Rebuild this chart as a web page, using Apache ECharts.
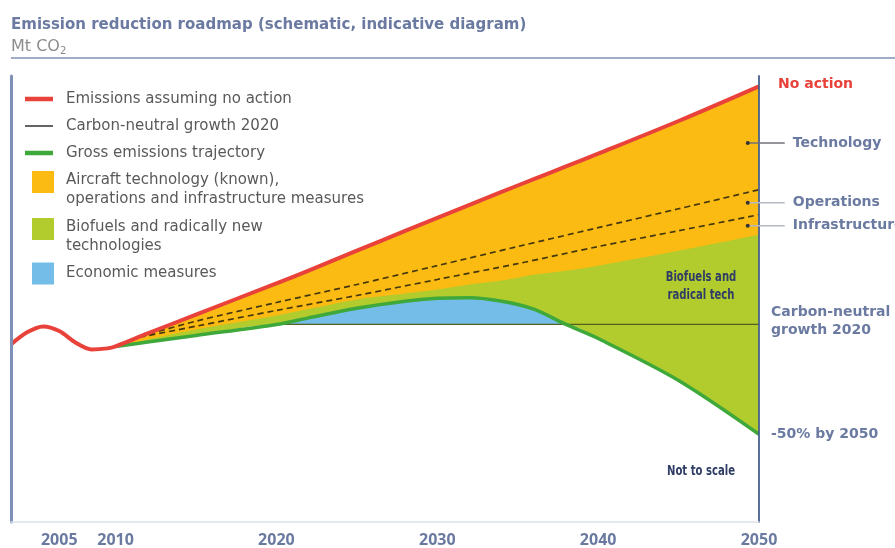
<!DOCTYPE html>
<html><head><meta charset="utf-8">
<script src="https://cdn.jsdelivr.net/npm/echarts@6/dist/echarts.min.js"></script>
<style>html,body{margin:0;padding:0;background:#fff}#c{width:895px;height:548px}</style>
</head><body><div id="c"></div>
<script>
// ---- Data (schematic index: carbon-neutral 2020 level = 100) ----
const historyYears = [2003.5, 2004.5, 2005.5, 2006.5, 2007.5, 2008.5, 2009.5];
const historyEmissions = [90.9, 96.4, 99.1, 97.0, 91.8, 88.6, 89.1];
const projYears = [2010, 2012, 2015, 2020, 2022, 2025, 2028, 2030, 2032, 2034, 2036, 2038, 2040, 2045, 2050];
const noAction   = [90.0, 95.9, 104.5, 118.7, 124.5, 133.6, 142.6, 148.6, 154.5, 160.4, 166.2, 172.0, 177.8, 192.7, 208.5];
const techBase   = [90.0, 93.2, 97.7, 104.1, 107.0, 111.4, 114.1, 115.9, 118.2, 120.0, 122.7, 124.5, 126.8, 133.6, 140.9];
const grossEmissions = [90.0, 92.0, 95.0, 100.0, 103.0, 107.4, 110.6, 111.9, 112.2, 110.6, 107.0, 100.0, 93.6, 74.5, 50.0];
const dashYears  = [2011.5, 2015, 2020, 2025, 2030, 2035, 2040, 2045, 2050];
const operationsLine     = [94.4, 101.5, 110.0, 118.2, 126.8, 135.5, 144.1, 152.7, 161.4];
const infrastructureLine = [94.2, 99.2, 106.4, 113.2, 120.5, 127.7, 135.5, 142.7, 150.0];
const cngYears = [2020, 2050];
const cngLevel = 100;
const xTickValues = [2006.5, 2010, 2020, 2030, 2040, 2050];
const xTickLabels = ['2005', '2010', '2020', '2030', '2040', '2050'];
const calloutNames = ['Technology', 'Operations', 'Infrastructure'];
const calloutValues = [182.7, 155.5, 145.0];
const calloutYear = 2049.3;

// ---- Styles ----
const FONT = "'DejaVu Sans', sans-serif";
const SLATE = '#6b7aa1';
const RED = '#e8423b', YELLOW = '#fbbb12', LGREEN = '#b2cb2d', DGREEN = '#3fa83b', BLUE = '#74bde9';
const S = 0.3;

const pairs = (xs, ys) => xs.map((x, i) => [x, ys[i]]);
const redData = pairs(historyYears.concat(projYears), historyEmissions.concat(noAction));
const grossData = pairs(projYears, grossEmissions);
// white cover below the history curve and below min(gross, carbon-neutral level)
const maskData = pairs(historyYears, historyEmissions)
  .concat(projYears.map((x, i) => [x, Math.min(grossEmissions[i], cngLevel)]));
const cngData = cngYears.map(y => [y, cngLevel]);

// filled band drawn down to the axis; later bands paint over earlier ones
const band = (name, data, color) => ({
  type: 'line', name, data, symbol: 'none', smooth: S, silent: true,
  lineStyle: { width: 0 }, itemStyle: { color }, areaStyle: { color, opacity: 1, origin: 'start' }
});

const NAME_RED = 'Emissions assuming no action';
const NAME_CNG = 'Carbon-neutral growth 2020';
const NAME_GROSS = 'Gross emissions trajectory';
const NAME_Y = 'Aircraft technology (known),\noperations and infrastructure measures';
const NAME_G = 'Biofuels and radically new\ntechnologies';
const NAME_B = 'Economic measures';

const lt = (pad) => ({ color: '#595959', fontSize: 15, fontFamily: FONT, lineHeight: 19, padding: pad });
const lineLegend = (top, name, path, color) => ({
  orient: 'vertical', left: 25, top, padding: 0, selectedMode: false, itemWidth: 28, itemHeight: 14,
  textStyle: lt([0, 0, 0, 8]),
  data: [{ name, icon: path, itemStyle: { color, borderWidth: 0 } }]
});
// square sitting at the top of a 38px-high icon box so it lines up with the first text line
const boxLegend = (top, name, color, twoLine) => ({
  orient: 'vertical', left: 32, top, padding: 0, selectedMode: false, itemWidth: 22, itemHeight: twoLine ? 38 : 22,
  textStyle: lt([0, 0, 0, 7]),
  data: [{ name, icon: twoLine ? 'path://M0,0H22V22H0Z M11,37.95H11.05V38H11Z' : 'rect', itemStyle: { color, borderWidth: 0 } }]
});

const chart = echarts.init(document.getElementById('c'), null, { renderer: 'canvas' });
chart.setOption({
  animation: false,
  backgroundColor: '#fff',
  title: [
    { text: 'Emission reduction roadmap (schematic, indicative diagram)', left: 11, top: 18, padding: 0,
      textStyle: { fontSize: 15, fontWeight: 'bold', color: SLATE, fontFamily: FONT } },
    { text: 'Mt CO{s|2}', left: 11, top: 37, padding: 0,
      textStyle: { fontSize: 16, fontWeight: 'normal', color: '#8c8c8c', fontFamily: FONT,
        rich: { s: { fontSize: 10, color: '#8c8c8c', fontFamily: FONT, padding: [9, 0, 0, 0] } } } }
  ],
  legend: [
    lineLegend(89.5, NAME_RED, 'path://M0,0H28V4.5H0Z', RED),
    lineLegend(116.5, NAME_CNG, 'path://M0,0H28V1.4H0Z', '#222'),
    lineLegend(143.5, NAME_GROSS, 'path://M0,0H28V4.5H0Z', DGREEN),
    boxLegend(171, NAME_Y, YELLOW, true),
    boxLegend(218, NAME_G, LGREEN, true),
    boxLegend(262.5, NAME_B, BLUE, false)
  ],
  grid: { left: 11, right: 136, top: 76, bottom: 25 },
  xAxis: {
    type: 'value', min: 2003.5, max: 2050, z: 5,
    axisLine: { show: true, onZero: false, lineStyle: { color: '#dbe2ec', width: 1.5 } },
    axisTick: { show: false }, splitLine: { show: false },
    axisLabel: {
      customValues: xTickValues, margin: 10, color: SLATE, fontSize: 16, fontWeight: 'bold', fontFamily: "'Open Sans', sans-serif",
      formatter: v => { const i = xTickValues.findIndex(t => Math.abs(t - v) < 1e-6); return i >= 0 ? xTickLabels[i] : ''; }
    }
  },
  yAxis: [
    { type: 'value', min: 10, max: 213.2, position: 'left', z: 5,
      axisLine: { show: true, onZero: false, lineStyle: { color: '#7f90b8', width: 3 } },
      axisTick: { show: false }, axisLabel: { show: false }, splitLine: { show: false } },
    { type: 'value', min: 10, max: 213.2, position: 'right', z: 5,
      axisLine: { show: true, onZero: false, lineStyle: { color: '#47608c', width: 1.8 } },
      axisTick: { show: false }, axisLabel: { show: false }, splitLine: { show: false } }
  ],
  series: [
    band(NAME_Y, pairs(projYears, noAction), YELLOW),
    band(NAME_G, pairs(projYears, techBase), LGREEN),
    band(NAME_B, grossData, BLUE),
    band('_below', maskData, '#ffffff'),
    { type: 'line', name: 'Operations', data: pairs(dashYears, operationsLine), symbol: 'none', smooth: S, silent: true,
      lineStyle: { color: '#45380e', width: 1.7, type: [6, 4] } },
    { type: 'line', name: 'Infrastructure', data: pairs(dashYears, infrastructureLine), symbol: 'none', smooth: S, silent: true,
      lineStyle: { color: '#45380e', width: 1.7, type: [6, 4] } },
    { type: 'line', name: NAME_CNG, data: cngData, symbol: 'none', silent: true,
      itemStyle: { color: '#222' }, lineStyle: { color: '#55601e', width: 1.2 },
      endLabel: { show: true, formatter: 'Carbon-neutral\ngrowth 2020', distance: 12, offset: [0, -3],
        color: SLATE, fontSize: 14, fontWeight: 'bold', fontFamily: FONT, lineHeight: 18 } },
    { type: 'line', name: NAME_GROSS, data: grossData, symbol: 'none', smooth: S, silent: true,
      itemStyle: { color: DGREEN }, lineStyle: { color: DGREEN, width: 3.5 },
      endLabel: { show: true, formatter: '-50% by 2050', distance: 12,
        color: SLATE, fontSize: 14, fontWeight: 'bold', fontFamily: FONT } },
    { type: 'line', name: NAME_RED, data: redData, symbol: 'none', smooth: S, silent: true,
      itemStyle: { color: RED }, lineStyle: { color: RED, width: 4 },
      endLabel: { show: true, formatter: 'No action', distance: 19, offset: [0, -2],
        color: RED, fontSize: 14, fontWeight: 'bold', fontFamily: FONT } }
  ]
});

// ---- Annotations ----
const NARROW = "bold 14px 'DejaVu Sans Condensed', 'Liberation Sans Narrow', sans-serif";
const g = [
  { type: 'line', shape: { x1: 11, y1: 58, x2: 895, y2: 58 }, style: { stroke: '#8190b6', lineWidth: 1.5 }, silent: true },
  { type: 'text', x: 701, y: 286, scaleX: 0.8, originX: 0, originY: 0, z: 10,
    style: { text: 'Biofuels and\nradical tech', align: 'center', verticalAlign: 'middle', fill: '#2f3d66', font: NARROW, lineHeight: 18 }, silent: true },
  { type: 'text', x: 701, y: 471, scaleX: 0.8, originX: 0, originY: 0, z: 10,
    style: { text: 'Not to scale', align: 'center', verticalAlign: 'middle', fill: '#2f3d66', font: NARROW }, silent: true }
];
calloutNames.forEach((nm, i) => {
  const p = chart.convertToPixel({ gridIndex: 0 }, [calloutYear, calloutValues[i]]);
  g.push({ type: 'line', z: 10, shape: { x1: p[0], y1: p[1], x2: p[0] + 37, y2: p[1] },
    style: { stroke: i === 0 ? '#6f7277' : '#b3b8c2', lineWidth: 1.5 }, silent: true });
  g.push({ type: 'circle', z: 10, shape: { cx: p[0], cy: p[1], r: 2 }, style: { fill: '#333' }, silent: true });
  g.push({ type: 'text', z: 10, x: p[0] + 45, y: p[1], style: { text: nm, verticalAlign: 'middle',
    fill: SLATE, font: "bold 14px 'DejaVu Sans', sans-serif" }, silent: true });
});
chart.setOption({ graphic: g });
</script>
</body></html>
